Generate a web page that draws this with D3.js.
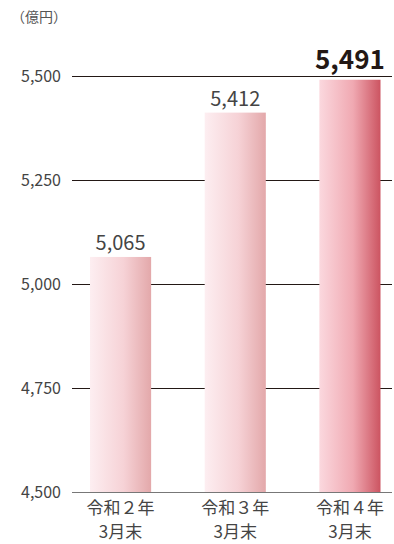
<!DOCTYPE html>
<html>
<head>
<meta charset="utf-8">
<script src="https://cdn.jsdelivr.net/npm/d3@7"></script>
<style>
  body { margin: 0; background: #fff; }
  svg { display: block; font-family: "Noto Sans CJK JP", "Noto Sans", sans-serif; }
</style>
</head>
<body>
<div id="chart"></div>
<script>
const categories = ['令和２年', '令和３年', '令和４年']
const subLabels = ['3月末', '3月末', '3月末']
const values = [5065, 5412, 5491]
const yTicks = [4500, 4750, 5000, 5250, 5500]
const unitLabel = '（億円）'

const width = 394
const height = 544

const svg = d3.select('#chart')
    .append('svg')
    .attr('width', width)
    .attr('height', height)

const defs = svg.append('defs')
const grads = [
    ['#fdeef1', '#f6d2d6', '#e3a8aa'],
    ['#fdeef1', '#f6d2d6', '#e3a8aa'],
    ['#fbd8de', '#f0a9b2', '#cc5461']
]
grads.forEach((g, i) => {
    const lg = defs.append('linearGradient')
        .attr('id', 'grad' + i)
        .attr('x1', '0%').attr('x2', '100%')
        .attr('y1', '0%').attr('y2', '0%')
    lg.append('stop').attr('offset', '0%').attr('stop-color', g[0])
    lg.append('stop').attr('offset', '55%').attr('stop-color', g[1])
    lg.append('stop').attr('offset', '100%').attr('stop-color', g[2])
})

const x = d3.scaleBand()
    .domain(categories)
    .range([90, 380.5])
    .paddingInner(0.467)
    .paddingOuter(0)

const y = d3.scaleLinear()
    .domain([4500, 5500])
    .range([492, 76])

// unit label
svg.append('text')
    .attr('x', 11)
    .attr('y', 22)
    .attr('font-size', 14)
    .attr('fill', '#555')
    .text(unitLabel)

// gridlines
svg.append('g')
    .selectAll('line')
    .data(yTicks.filter(t => t !== 4500))
    .join('line')
    .attr('x1', 72)
    .attr('x2', 392)
    .attr('y1', d => y(d) + 0.5)
    .attr('y2', d => y(d) + 0.5)
    .attr('stroke', '#231815')
    .attr('stroke-width', 1)

// tick labels
svg.append('g')
    .selectAll('text')
    .data(yTicks)
    .join('text')
    .attr('x', 61)
    .attr('y', d => y(d))
    .attr('dy', '0.35em')
    .attr('text-anchor', 'end')
    .attr('font-size', 16)
    .attr('fill', '#444')
    .text(d => d3.format(',')(d))

// bars
svg.append('g')
    .selectAll('rect')
    .data(values)
    .join('rect')
    .attr('x', (d, i) => x(categories[i]))
    .attr('y', d => y(d))
    .attr('width', x.bandwidth())
    .attr('height', d => y(4500) - y(d))
    .attr('fill', (d, i) => `url(#grad${i})`)

// baseline
svg.append('line')
    .attr('x1', 72)
    .attr('x2', 392)
    .attr('y1', y(4500) + 0.5)
    .attr('y2', y(4500) + 0.5)
    .attr('stroke', '#777')
    .attr('stroke-width', 1.2)

// value labels
const last = values.length - 1
values.forEach((v, i) => {
    const cx = x(categories[i]) + x.bandwidth() / 2
    const isLast = i === last
    const lbl = svg.append('text')
        .attr('x', cx)
        .attr('y', y(v) - (isLast ? 11 : 7))
        .attr('text-anchor', 'middle')
        .attr('font-size', isLast ? 26 : 20)
        .attr('font-weight', isLast ? 'bold' : 'normal')
        .attr('fill', isLast ? '#231815' : '#444')
        .text(d3.format(',')(v))
    if (isLast) {
        const bb = lbl.node().getBBox()
        svg.insert('rect', () => lbl.node())
            .attr('x', bb.x - 4)
            .attr('y', bb.y + 4)
            .attr('width', bb.width + 8)
            .attr('height', bb.height - 8)
            .attr('fill', '#fff')
    }
})

// category labels
const catGroup = svg.append('g')
    .attr('font-size', 17)
    .attr('fill', '#444')
    .attr('text-anchor', 'middle')
categories.forEach((c, i) => {
    const cx = x(c) + x.bandwidth() / 2
    catGroup.append('text').attr('x', cx).attr('y', 514).text(c)
    catGroup.append('text').attr('x', cx).attr('y', 538).text(subLabels[i])
})
</script>
</body>
</html>
